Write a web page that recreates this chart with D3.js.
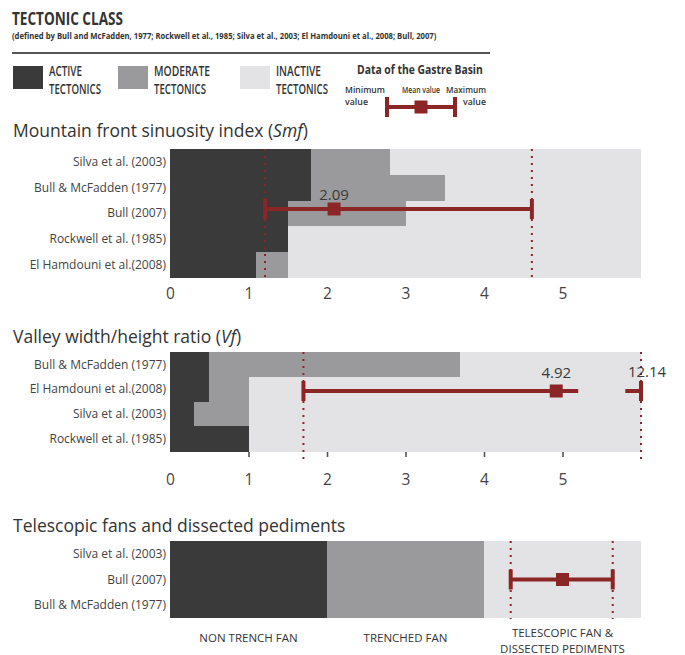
<!DOCTYPE html>
<html>
<head>
<meta charset="utf-8">
<script src="https://cdn.jsdelivr.net/npm/d3@7/dist/d3.min.js"></script>
<style>
  html, body { margin: 0; padding: 0; background: #ffffff; }
  svg { display: block; font-family: "Open Sans", "Noto Sans", sans-serif; }
</style>
</head>
<body>
<svg id="chart" width="685" height="655"></svg>
<script>
// Tectonic class thresholds per author, and Gastre Basin statistics [min, mean, max]
const smfSources = ["Silva et al. (2003)", "Bull & McFadden (1977)", "Bull (2007)", "Rockwell et al. (1985)", "El Hamdouni et al.(2008)"];
const smfActiveMax = [1.8, 1.8, 1.5, 1.5, 1.1];
const smfModerateMax = [2.8, 3.5, 3.0, 1.5, 1.5];
const smfBasin = [1.21, 2.09, 4.61];

const vfSources = ["Bull & McFadden (1977)", "El Hamdouni et al.(2008)", "Silva et al. (2003)", "Rockwell et al. (1985)"];
const vfActiveMax = [0.5, 0.5, 0.3, 1.0];
const vfModerateMax = [3.7, 1.0, 1.0, 1.0];
const vfBasin = [1.7, 4.92, 12.14];

const teleSources = ["Silva et al. (2003)", "Bull (2007)", "Bull  & McFadden (1977)"];
const teleClasses = [["NON TRENCH FAN"], ["TRENCHED FAN"], ["TELESCOPIC FAN &", "DISSECTED PEDIMENTS"]];
const teleBasin = [2.17, 2.5, 2.82];   // position on the class axis (class index units)

const axisTicks = [0, 1, 2, 3, 4, 5];
const classNames = ["ACTIVE", "MODERATE", "INACTIVE"];

const C = {
  active: "#3a3a3b",
  moderate: "#9a9a9c",
  inactive: "#e3e3e5",
  red: "#8c2626",
  text: "#3a3a3a",
  label: "#444444"
};
const classColors = [C.active, C.moderate, C.inactive];

const svg = d3.select("#chart");
const X0 = 170, X1 = 641;

// Horizontally condensed text: drawn at its natural width, then squeezed to `width`
function condensed(x, y, str, size, weight, width, anchor) {
  const g = svg.append("g");
  const t = g.append("text").attr("font-size", size).attr("font-weight", weight)
    .attr("fill", "#333").attr("text-anchor", anchor || "start").text(str);
  const natural = t.node().getComputedTextLength() || width;
  g.attr("transform", `translate(${x},${y}) scale(${width / natural},1)`);
  return t;
}

// ---------- Header ----------
condensed(12, 25, "TECTONIC CLASS", 18, 700, 111);
condensed(12, 39, "(defined by Bull  and McFadden, 1977; Rockwell et al., 1985; Silva et al., 2003; El Hamdouni et al., 2008; Bull, 2007)", 9.5, 700, 425);
svg.append("line").attr("x1", 12).attr("x2", 490).attr("y1", 53).attr("y2", 53)
  .attr("stroke", "#555").attr("stroke-width", 2);

// legend swatches
const legendX = [13, 118, 240];
const legendLen = [33, 56, 45];
classNames.forEach((name, i) => {
  svg.append("rect").attr("x", legendX[i]).attr("y", 66).attr("width", 30).attr("height", 23)
    .attr("fill", classColors[i]);
  condensed(legendX[i] + 36, 76, name, 14, 600, legendLen[i]);
  condensed(legendX[i] + 36, 94, "TECTONICS", 14, 600, 52);
});

condensed(357, 74, "Data of the Gastre Basin", 12.5, 700, 126);
condensed(345, 93, "Minimum", 8.5, 600, 40);
condensed(345, 105, "value", 8.5, 600, 23);
condensed(421, 93, "Mean value", 8.5, 600, 38, "middle");
condensed(486, 93, "Maximum", 8.5, 600, 40, "end");
condensed(486, 105, "value", 8.5, 600, 23, "end");

// error bar glyph: caps at min / max, square at mean
function errorBar(g, xMin, xMean, xMax, y, segments) {
  (segments || [[xMin, xMax]]).forEach(([a, b]) => {
    g.append("line").attr("x1", a).attr("x2", b).attr("y1", y).attr("y2", y)
      .attr("stroke", C.red).attr("stroke-width", 4);
  });
  [xMin, xMax].forEach(x => g.append("line").attr("x1", x).attr("x2", x)
    .attr("y1", y - 10).attr("y2", y + 10).attr("stroke", C.red).attr("stroke-width", 4));
  g.append("rect").attr("x", xMean - 6.5).attr("y", y - 6.5).attr("width", 13).attr("height", 13)
    .attr("fill", C.red);
}
const legendScale = d3.scaleLinear().domain([0, 1]).range([387, 455]);
errorBar(svg.append("g"), legendScale(0), legendScale(0.5), legendScale(1), 107);

function dotted(g, x, y0, y1) {
  g.append("line").attr("x1", x).attr("x2", x).attr("y1", y0).attr("y2", y1)
    .attr("stroke", C.red).attr("stroke-width", 2).attr("stroke-dasharray", "2,5");
}

function panelTitle(y, main, ital) {
  const t = svg.append("text").attr("x", 13).attr("y", y)
    .attr("font-size", 17.5).attr("fill", "#333");
  t.append("tspan").text(main);
  if (ital) {
    t.append("tspan").attr("font-style", "italic").text(ital);
    t.append("tspan").text(")");
  }
}

function rowLabels(g, y, sources) {
  g.selectAll("text.row").data(sources).join("text")
    .attr("class", "row")
    .attr("x", 166).attr("y", d => y(d) + y.bandwidth() / 2)
    .attr("dy", "0.36em").attr("text-anchor", "end")
    .attr("font-size", 12).attr("fill", C.label).text(d => d);
}

function classBars(g, x, y, sources, activeMax, moderateMax) {
  const rows = sources.map((s, i) => ({ s, a: activeMax[i], m: moderateMax[i] }));
  const layers = [["inactive", () => x.domain()[1]], ["moderate", d => d.m], ["active", d => d.a]];
  layers.forEach(([k, f]) => {
    g.selectAll("rect." + k).data(rows).join("rect").attr("class", k)
      .attr("x", x(0)).attr("y", d => y(d.s))
      .attr("width", d => x(f(d)) - x(0)).attr("height", y.bandwidth() + 0.5)
      .attr("fill", C[k]).attr("shape-rendering", "crispEdges");
  });
}

// ---------- Smf panel ----------
panelTitle(137, "Mountain front sinuosity index (", "Smf");
{
  const g = svg.append("g");
  const x = d3.scaleLinear().domain([0, 6]).range([X0, X1]);
  const y = d3.scaleBand().domain(smfSources).range([149, 277]).padding(0);
  rowLabels(g, y, smfSources);
  classBars(g, x, y, smfSources, smfActiveMax, smfModerateMax);
  dotted(g, x(smfBasin[0]), 149, 279);
  dotted(g, x(smfBasin[2]), 149, 279);
  errorBar(g, x(smfBasin[0]), x(smfBasin[1]), x(smfBasin[2]), 209);
  g.append("text").attr("x", x(smfBasin[1])).attr("y", 200).attr("text-anchor", "middle")
    .attr("font-size", 15).attr("fill", C.text).text(smfBasin[1].toFixed(2));
  const ax = g.append("g").attr("transform", "translate(0,277)")
    .call(d3.axisBottom(x).tickValues(axisTicks).tickFormat(d3.format("d")).tickSize(0).tickPadding(11));
  ax.select(".domain").remove();
  ax.selectAll("text").attr("font-size", 15.5).attr("fill", C.label).attr("font-family", "Open Sans");
}

// ---------- Vf panel ----------
panelTitle(343, "Valley width/height ratio (", "Vf");
{
  const g = svg.append("g");
  const x = d3.scaleLinear().domain([0, 6]).range([X0, X1]).clamp(true);
  const y = d3.scaleBand().domain(vfSources).range([352, 451]).padding(0);
  rowLabels(g, y, vfSources);
  classBars(g, x, y, vfSources, vfActiveMax, vfModerateMax);
  const ax = g.append("g").attr("transform", "translate(0,451)")
    .call(d3.axisBottom(x).tickValues(axisTicks).tickFormat(d3.format("d")).tickSize(6).tickPadding(17));
  ax.select(".domain").remove();
  ax.selectAll(".tick line").attr("stroke", "#555").attr("stroke-width", 1.6)
    .attr("y1", 1).attr("opacity", d => d === 0 ? 0 : 1);
  ax.selectAll("text").attr("font-size", 15.5).attr("fill", C.label).attr("font-family", "Open Sans");
  dotted(g, x(vfBasin[0]), 352, 459);
  dotted(g, x(vfBasin[2]), 352, 459);
  // the maximum lies off the axis: the bar is broken just past the mean
  errorBar(g, x(vfBasin[0]), x(vfBasin[1]), x(vfBasin[2]), 391,
    [[x(vfBasin[0]), x(5.2)], [x(5.8), x(vfBasin[2])]]);
  g.append("text").attr("x", x(vfBasin[1])).attr("y", 378).attr("text-anchor", "middle")
    .attr("font-size", 15).attr("fill", C.text).text(vfBasin[1].toFixed(2));
  g.append("text").attr("x", x(vfBasin[2]) + 6).attr("y", 377).attr("text-anchor", "middle")
    .attr("font-size", 15).attr("fill", C.text).text(vfBasin[2].toFixed(2));
}

// ---------- Telescopic fans panel ----------
panelTitle(532, "Telescopic fans and dissected pediments");
{
  const g = svg.append("g");
  const x = d3.scaleLinear().domain([0, teleClasses.length]).range([X0, X1]);
  const y = d3.scaleBand().domain(teleSources).range([541, 618]).padding(0);
  rowLabels(g, y, teleSources);
  g.selectAll("rect.cls").data(teleClasses).join("rect").attr("class", "cls")
    .attr("x", (d, i) => x(i)).attr("width", (d, i) => x(i + 1) - x(i))
    .attr("y", 541).attr("height", 77)
    .attr("fill", (d, i) => classColors[i]).attr("shape-rendering", "crispEdges");
  dotted(g, x(teleBasin[0]), 541, 619);
  dotted(g, x(teleBasin[2]), 541, 619);
  errorBar(g, x(teleBasin[0]), x(teleBasin[1]), x(teleBasin[2]), y(teleSources[1]) + y.bandwidth() / 2);
  teleClasses.forEach((lines, i) => {
    const cx = x(i + 0.5);
    const base = lines.length === 1 ? 642 : 637;
    lines.forEach((t, j) => g.append("text").attr("x", cx).attr("y", base + j * 16)
      .attr("text-anchor", "middle").attr("font-size", 11.5).attr("fill", "#333").text(t));
  });
}
</script>
</body>
</html>
